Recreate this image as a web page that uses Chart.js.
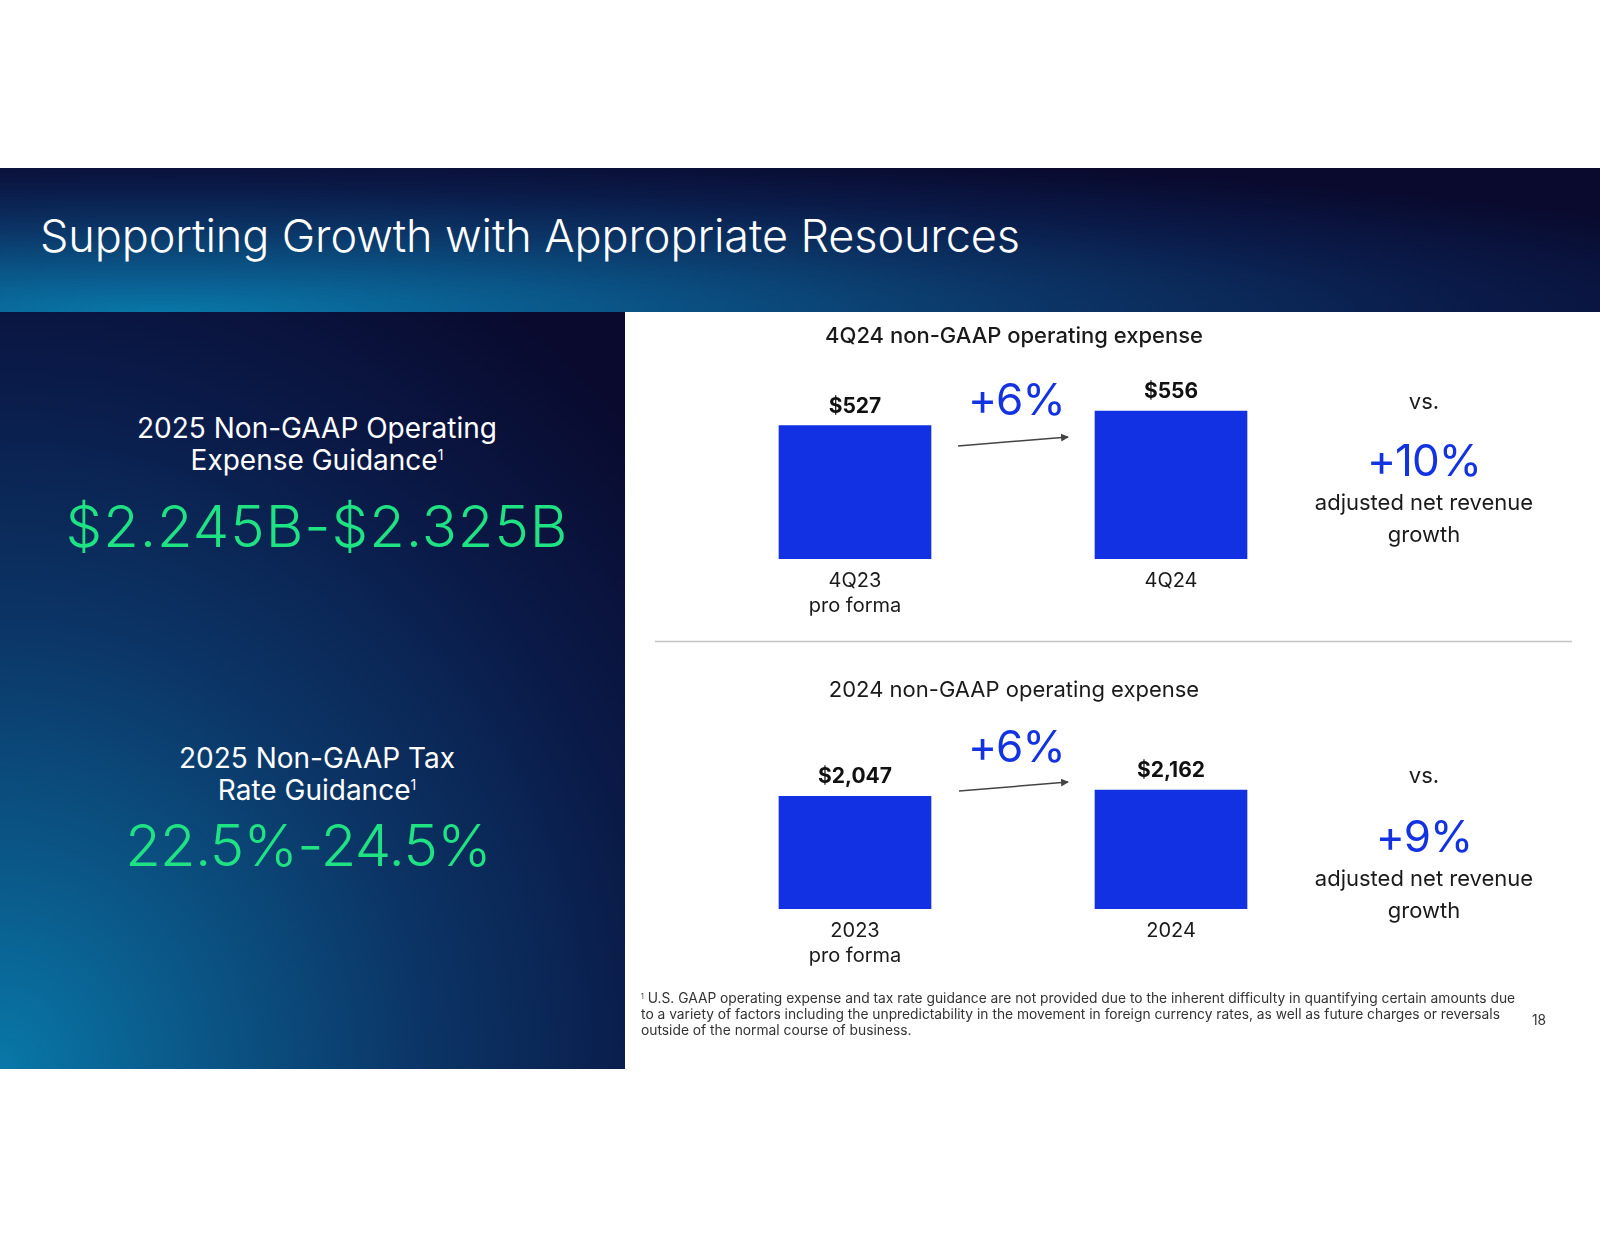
<!DOCTYPE html>
<html>
<head>
<meta charset="utf-8">
<script src="https://cdn.jsdelivr.net/npm/chart.js@4.4.1/dist/chart.umd.min.js"></script>
<style>
  html, body { margin: 0; padding: 0; }
  body { width: 1600px; height: 1236px; position: relative; background: #fff; font-family: Inter, sans-serif; overflow: hidden; }
  .abs { position: absolute; white-space: nowrap; }
  #header {
    position: absolute; left: 0; top: 168px; width: 1600px; height: 144px;
    background: radial-gradient(ellipse 110% 115% at 10% 100%, #0877a7 0%, #0a5688 25%, #0b3566 50%, #0a1a48 75%, #090a2e 100%);
  }
  #leftPanel {
    position: absolute; left: 0; top: 312px; width: 625px; height: 757px;
    background: radial-gradient(ellipse 160% 140% at 0% 100%, #0878a8 0%, #0a5a8a 18%, #0b3566 42%, #0a1a48 66%, #090a2e 88%);
  }
  .white { color: #fff; }
  .green { color: #1fe283; font-weight: 300; }
  .blue { color: #1332e0; }
  .dark { color: #1a1a1a; }
  .center { text-align: center; }
  sup { font-size: 0.5em; line-height: 0; vertical-align: 0; position: relative; top: -0.75em; }
  canvas { position: absolute; }
</style>
</head>
<body>
<div id="header"></div>
<div id="leftPanel"></div>

<div class="abs white" style="left:40px; top:213px; font-size:45px; line-height:1; font-weight:300; letter-spacing:-0.1px;">Supporting Growth with Appropriate Resources</div>

<!-- left panel guidance -->
<div class="abs white center" style="left:0; width:634px; top:412px; font-size:28px; line-height:32px;">2025 Non-GAAP Operating<br>Expense Guidance<sup>1</sup></div>
<div class="abs green center" style="left:0; width:634px; top:497px; font-size:58px; line-height:1; letter-spacing:1px;">$2.245B-$2.325B</div>
<div class="abs white center" style="left:0; width:634px; top:742px; font-size:28px; line-height:32px;">2025 Non-GAAP Tax<br>Rate Guidance<sup>1</sup></div>
<div class="abs green center" style="left:0; width:616px; top:816px; font-size:58px; line-height:1; letter-spacing:-0.7px;">22.5%-24.5%</div>

<!-- charts -->
<canvas id="quarterChart" width="632" height="291" style="left:697px; top:330px;"></canvas>
<canvas id="yearChart" width="632" height="271" style="left:697px; top:700px;"></canvas>

<div class="abs dark center" style="left:814px; width:400px; top:324px; font-size:22px; line-height:1; font-weight:500;">4Q24 non-GAAP operating expense</div>
<div class="abs dark center" style="left:814px; width:400px; top:678px; font-size:22px; line-height:1;">2024 non-GAAP operating expense</div>

<div class="abs blue" style="left:968px; top:377px; font-size:44px; line-height:1; letter-spacing:-1px;">+6%</div>
<div class="abs blue" style="left:968px; top:724px; font-size:44px; line-height:1; letter-spacing:-1px;">+6%</div>

<svg class="abs" style="left:0; top:0;" width="1600" height="1236">
  <defs>
    <marker id="head" markerWidth="8" markerHeight="8" refX="7" refY="4" orient="auto" markerUnits="userSpaceOnUse">
      <path d="M0,0 L8,4 L0,8 z" fill="#444"/>
    </marker>
  </defs>
  <line x1="958" y1="446" x2="1068" y2="437" stroke="#444" stroke-width="1.5" marker-end="url(#head)"/>
  <line x1="959" y1="791" x2="1068" y2="782" stroke="#444" stroke-width="1.5" marker-end="url(#head)"/>
  <line x1="655" y1="641.5" x2="1572" y2="641.5" stroke="#c4c4c4" stroke-width="1.5"/>
</svg>

<div class="abs dark center" style="left:1274px; width:300px; top:390px; font-size:22px; line-height:1;">vs.</div>
<div class="abs blue center" style="left:1274px; width:300px; top:438px; font-size:44px; line-height:1; letter-spacing:-1px;">+10%</div>
<div class="abs dark center" style="left:1274px; width:300px; top:486px; font-size:22px; line-height:32px;">adjusted net revenue<br>growth</div>

<div class="abs dark center" style="left:1274px; width:300px; top:764px; font-size:22px; line-height:1;">vs.</div>
<div class="abs blue center" style="left:1274px; width:300px; top:814px; font-size:44px; line-height:1; letter-spacing:-1px;">+9%</div>
<div class="abs dark center" style="left:1274px; width:300px; top:862px; font-size:22px; line-height:32px;">adjusted net revenue<br>growth</div>

<div class="abs" style="left:641px; top:990px; font-size:13.8px; line-height:16px; color:#333;"><sup style="top:-0.6em;">1</sup> U.S. GAAP operating expense and tax rate guidance are not provided due to the inherent difficulty in quantifying certain amounts due<br>to a variety of factors including the unpredictability in the movement in foreign currency rates, as well as future charges or reversals<br>outside of the normal course of business.</div>
<div class="abs" style="left:1532px; top:1014px; font-size:13.8px; line-height:1; color:#333;">18</div>

<script>
// data
const quarterLabels = [['4Q23', 'pro forma'], '4Q24'];
const quarterOpex = [527, 556];
const yearLabels = [['2023', 'pro forma'], '2024'];
const yearOpex = [2047, 2162];

Chart.defaults.font.family = 'Inter';
Chart.defaults.color = '#1a1a1a';

// $ labels on top of each bar
const valueLabels = {
    id: 'valueLabels',
    afterDatasetsDraw(chart) {
        const ctx = chart.ctx;
        const meta = chart.getDatasetMeta(0);
        const values = chart.data.datasets[0].data;
        ctx.save();
        ctx.font = '700 21px Inter';
        ctx.fillStyle = '#111';
        ctx.textAlign = 'center';
        ctx.textBaseline = 'alphabetic';
        meta.data.forEach((bar, i) => {
            ctx.fillText('$' + values[i].toLocaleString('en-US'), bar.x, bar.y - 13);
        });
        ctx.restore();
    }
};

function makeChart(id, labels, values, yMin, yMax) {
    return new Chart(document.getElementById(id), {
        type: 'bar',
        data: {
            labels,
            datasets: [{ data: values, backgroundColor: '#1231e3', barThickness: 152 }]
        },
        options: {
            responsive: false, animation: false,
            layout: { padding: 0 },
            plugins: { legend: { display: false }, tooltip: { enabled: false } },
            scales: {
                x: {
                    grid: { display: false, drawTicks: false },
                    border: { display: false },
                    ticks: { font: { size: 20, lineHeight: 1.25 }, color: '#1a1a1a', padding: 9, maxRotation: 0, autoSkip: false },
                    afterFit: s => { s.height = 62; }
                },
                y: { display: false, min: yMin, max: yMax }
            }
        },
        plugins: [valueLabels]
    });
}

makeChart('quarterChart', quarterLabels, quarterOpex, 260, 718);
makeChart('yearChart', yearLabels, yearOpex, 0, 3800);
</script>
</body>
</html>
